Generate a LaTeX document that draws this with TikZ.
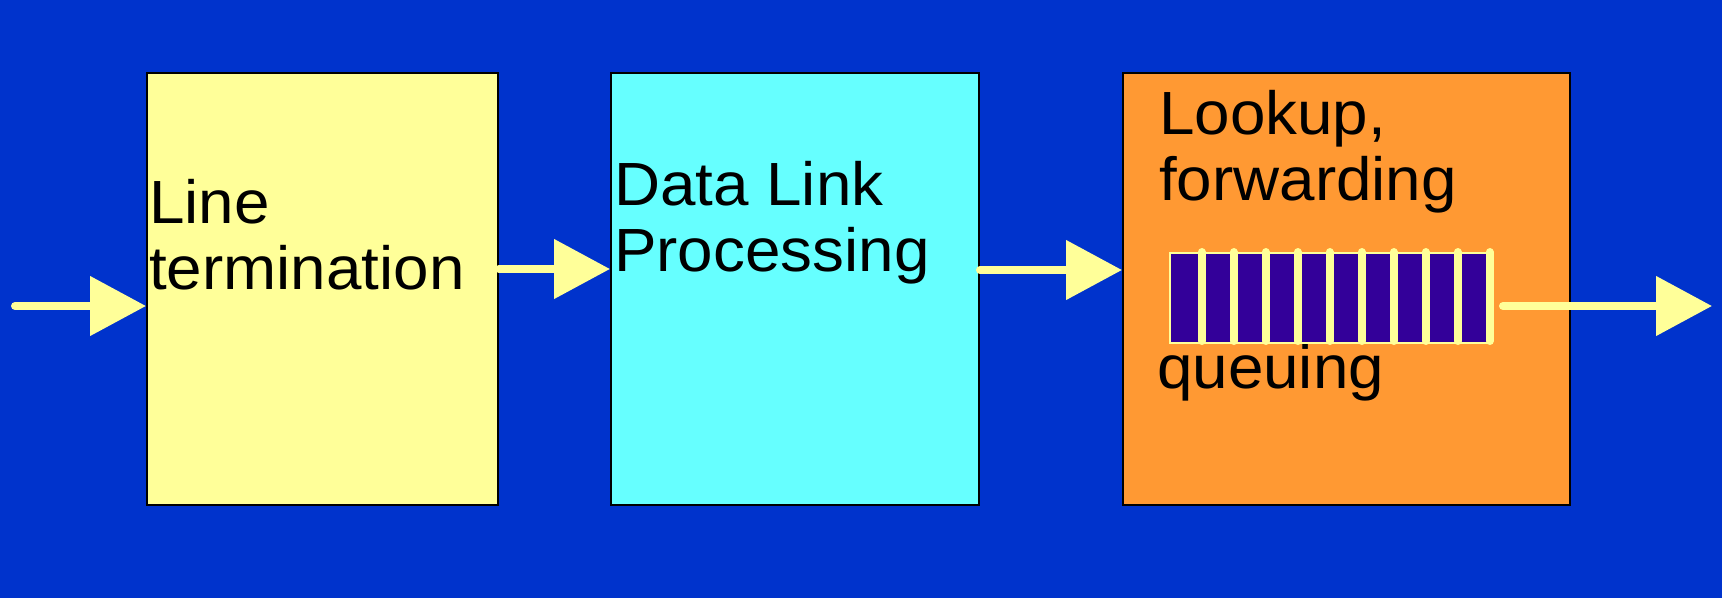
\documentclass[tikz,border=0pt]{standalone}
\usepackage{fontspec}
\setmainfont[FakeStretch=1.045]{Liberation Sans}
\usetikzlibrary{arrows.meta}
\definecolor{bg}{HTML}{0033CC}
\definecolor{lyellow}{HTML}{FFFF99}
\definecolor{lcyan}{HTML}{66FFFF}
\definecolor{lorange}{HTML}{FF9933}
\definecolor{qpurple}{HTML}{330099}
\tikzset{
  box/.style={draw=black, line width=2pt, anchor=north west, inner sep=0pt},
  lbl/.style={anchor=base west, inner sep=0pt, font=\fontsize{61}{66}\selectfont, text=black},
  flow/.style={draw=lyellow, line width=8pt, line cap=round,
    -{Triangle[length=56pt 0 0, width=58pt 0 0, fill=lyellow]}, shorten >=0pt},
  qbar/.style={draw=lyellow, line width=8pt, line cap=round},
}
\begin{document}
\begin{tikzpicture}[x=1pt,y=-1pt]
\fill[bg] (0,0) rectangle (1722,598);
\useasboundingbox (0,0) rectangle (1722,598);
% boxes
\node[box, fill=lyellow, minimum width=351pt, minimum height=432pt] (b1) at (146,72) {};
\node[box, fill=lcyan, minimum width=368pt, minimum height=432pt] (b2) at (610,72) {};
\node[box, fill=lorange, minimum width=447pt, minimum height=432pt] (b3) at (1122,72) {};
% labels
\node[lbl] (t1a) at (149,223) {Line};
\node[lbl] (t1b) at (149,289) {termination};
\node[lbl] (t2a) at (614,205) {Data Link};
\node[lbl] (t2b) at (614,271) {Processing};
\node[lbl] (t3a) at (1159,134) {Lookup,};
\node[lbl] (t3b) at (1159,200) {forwarding};
\node[lbl] (t3c) at (1157,388) {queuing};
% queue
\node[draw=lyellow, line width=2pt, fill=qpurple, anchor=north west, inner sep=0pt,
      minimum width=318pt, minimum height=90pt] (q) at (1169,252) {};
\foreach \i in {0,...,9} {
  \draw[qbar] (1201.7+32*\i,252) -- (1201.7+32*\i,341);
}
% connectors
\coordinate (in) at (15,306);
\coordinate (out) at (1712,306);
\coordinate (qo) at (1503,306);
\draw[flow] (in) -- (in -| b1.west);
\draw[flow] (b1.east |- 0,269) -- (b2.west |- 0,269);
\draw[flow] (b2.east |- 0,270) -- (b3.west |- 0,270);
\draw[flow] (qo) -- (out);
\end{tikzpicture}
\end{document}
